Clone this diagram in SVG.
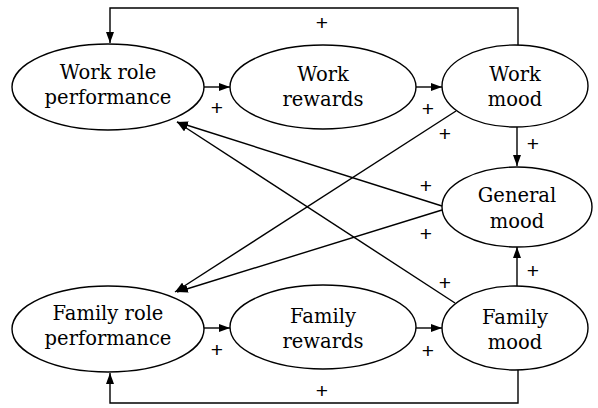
<svg xmlns="http://www.w3.org/2000/svg" width="598" height="408" viewBox="0 0 598 408">
  <style>
    .node ellipse { fill: #fff; stroke: #000; stroke-width: 1.4; }
    .node text { font-family: "DejaVu Serif", "Liberation Serif", serif; font-size: 19.5px; fill: #000; text-anchor: middle; }
    .edge { fill: none; stroke: #000; stroke-width: 1.4; marker-end: url(#arrow); }
    .sign { font-family: "Liberation Sans", "DejaVu Sans", sans-serif; font-size: 21px; fill: #000; text-anchor: middle; dominant-baseline: central; }
  </style>
  <defs>
    <marker id="arrow" markerUnits="userSpaceOnUse" markerWidth="12" markerHeight="8" refX="11" refY="4" orient="auto">
      <path d="M0,0 L11,4 L0,8 z" fill="#000"/>
    </marker>
  </defs>
  <rect width="598" height="408" fill="#fff"/>

  <g id="connectors">
    <path class="edge" d="M518 45 V8 H110 V43"/>
    <path class="edge" d="M518 370 V403 H110 V373"/>
    <path class="edge" d="M204 87 H230"/>
    <path class="edge" d="M416 87 H442"/>
    <path class="edge" d="M204 328 H230"/>
    <path class="edge" d="M416 328 H442"/>
    <path class="edge" d="M517 127 V166"/>
    <path class="edge" d="M517 286 V247"/>
    <path class="edge" d="M456 111 L175 292"/>
    <path class="edge" d="M442 206 L177 122"/>
    <path class="edge" d="M442 210 L177 292"/>
    <path class="edge" d="M455 303 L177 122"/>
  </g>

  <g id="signs">
    <text class="sign" x="322" y="22">+</text>
    <text class="sign" x="322" y="390">+</text>
    <text class="sign" x="217" y="107">+</text>
    <text class="sign" x="428" y="108">+</text>
    <text class="sign" x="217" y="349">+</text>
    <text class="sign" x="428" y="350">+</text>
    <text class="sign" x="533" y="143">+</text>
    <text class="sign" x="533" y="270">+</text>
    <text class="sign" x="445" y="133">+</text>
    <text class="sign" x="426" y="185">+</text>
    <text class="sign" x="426" y="233">+</text>
    <text class="sign" x="445" y="282">+</text>
  </g>

  <g id="work-role-performance" class="node">
    <ellipse cx="108" cy="87" rx="96" ry="43"/>
    <text x="108" y="79">Work role</text>
    <text x="108" y="104">performance</text>
  </g>
  <g id="work-rewards" class="node">
    <ellipse cx="323" cy="87" rx="93" ry="42"/>
    <text x="323" y="81">Work</text>
    <text x="323" y="106">rewards</text>
  </g>
  <g id="work-mood" class="node">
    <ellipse cx="515" cy="86" rx="73" ry="41"/>
    <text x="515" y="81">Work</text>
    <text x="515" y="106">mood</text>
  </g>
  <g id="general-mood" class="node">
    <ellipse cx="517" cy="207" rx="75" ry="40"/>
    <text x="517" y="202">General</text>
    <text x="517" y="228">mood</text>
  </g>
  <g id="family-role-performance" class="node">
    <ellipse cx="108" cy="329" rx="96" ry="43"/>
    <text x="108" y="320">Family role</text>
    <text x="108" y="345">performance</text>
  </g>
  <g id="family-rewards" class="node">
    <ellipse cx="323" cy="327" rx="93" ry="42"/>
    <text x="323" y="323">Family</text>
    <text x="323" y="348">rewards</text>
  </g>
  <g id="family-mood" class="node">
    <ellipse cx="515" cy="328" rx="73" ry="42"/>
    <text x="515" y="324">Family</text>
    <text x="515" y="349">mood</text>
  </g>
</svg>
